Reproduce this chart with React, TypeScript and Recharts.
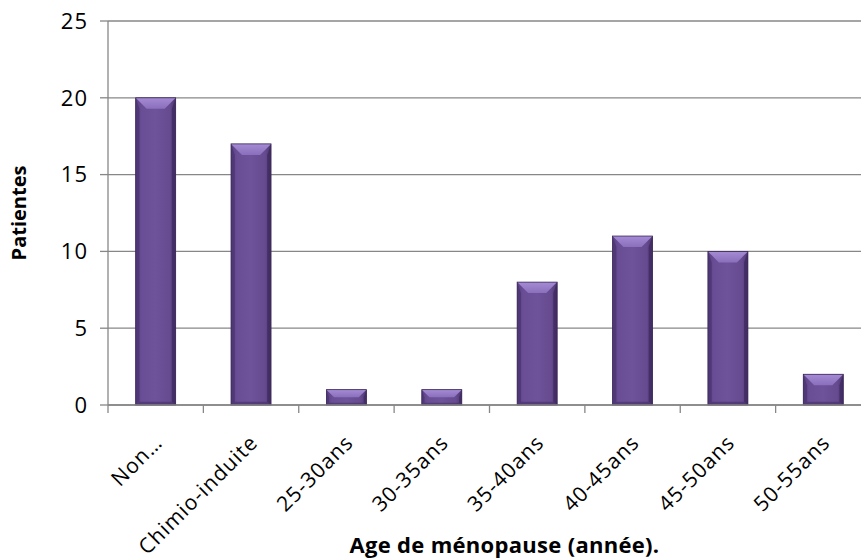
import React from "react";
import { BarChart, Bar, XAxis, YAxis, CartesianGrid } from "recharts";

const categories = [
  "Non…",
  "Chimio-induite",
  "25-30ans",
  "30-35ans",
  "35-40ans",
  "40-45ans",
  "45-50ans",
  "50-55ans",
];
const patientes = [20, 17, 1, 1, 8, 11, 10, 2];
const yTicks = [0, 5, 10, 15, 20, 25];

const data = categories.map((name, i) => ({ name, value: patientes[i] }));

const FONT = "'Open Sans', 'Liberation Sans', sans-serif";
const GRID = "#878787";
const TICK_SIZE = 8;

// Bevelled bar: dark sides, lighter top facet, shaded face
const BevelBar = (props: any) => {
  const { x, y, width, height } = props;
  if (!height || height <= 0) return null;
  const b = Math.min(11, height / 2, width / 2);
  const r = x + width;
  const bt = y + height;
  return (
    <g>
      <rect x={x} y={y} width={width} height={height} fill="url(#faceGrad)" />
      <polygon
        points={`${x},${y} ${x + b * 0.35},${y + b} ${x + b * 0.35},${bt - b * 0.3} ${x},${bt}`}
        fill="#4b3470"
        opacity={0.75}
      />
      <polygon
        points={`${r},${y} ${r - b * 0.35},${y + b} ${r - b * 0.35},${bt - b * 0.3} ${r},${bt}`}
        fill="#3f2a5f"
        opacity={0.8}
      />
      <polygon
        points={`${x},${bt} ${x + b * 0.35},${bt - b * 0.3} ${r - b * 0.35},${bt - b * 0.3} ${r},${bt}`}
        fill="#4a336c"
        opacity={0.7}
      />
      <polygon
        points={`${x},${y} ${r},${y} ${r - b},${y + b} ${x + b},${y + b}`}
        fill="url(#topGrad)"
      />
      <rect x={x} y={y} width={width} height={height} fill="none" stroke="#3a2757" strokeWidth={0.8} />
    </g>
  );
};

// Category label rotated 45°, plus tick marks on the category boundaries
const XTick = (props: any) => {
  const { x, y, payload, index, visibleTicksCount } = props;
  const half = payload.offset || 0;
  const axisY = y - TICK_SIZE;
  const ax = x + 8;
  const ay = axisY + 39;
  const isLast = index === visibleTicksCount - 1;
  return (
    <g>
      <line x1={x - half} x2={x - half} y1={axisY} y2={axisY + TICK_SIZE} stroke={GRID} strokeWidth={1.3} />
      {isLast && (
        <line x1={x + half} x2={x + half} y1={axisY} y2={axisY + TICK_SIZE} stroke={GRID} strokeWidth={1.3} />
      )}
      <text
        x={ax}
        y={ay}
        transform={`rotate(-45, ${ax}, ${ay})`}
        textAnchor="end"
        fontFamily={FONT}
        fontSize={21}
        letterSpacing={1}
        fill="#000"
      >
        {payload.value}
      </text>
    </g>
  );
};

export default function App() {
  return (
    <div
      style={{
        position: "absolute",
        left: 0,
        top: 0,
        width: 861,
        height: 560,
        overflow: "hidden",
        background: "#fff",
      }}
    >
      <BarChart
        width={880}
        height={560}
        data={data}
        margin={{ top: 21, right: 9, bottom: 0, left: 0 }}
        barCategoryGap="29%"
      >
        <defs>
          <linearGradient id="faceGrad" x1="0" y1="0" x2="1" y2="0">
            <stop offset="0%" stopColor="#5a4083" />
            <stop offset="15%" stopColor="#6a4e95" />
            <stop offset="50%" stopColor="#6e529a" />
            <stop offset="85%" stopColor="#664b90" />
            <stop offset="100%" stopColor="#4e3773" />
          </linearGradient>
          <linearGradient id="topGrad" x1="0" y1="0" x2="0" y2="1">
            <stop offset="0%" stopColor="#a58bd4" />
            <stop offset="100%" stopColor="#8a6fbc" />
          </linearGradient>
        </defs>
        <CartesianGrid vertical={false} stroke={GRID} strokeWidth={1.3} />
        <XAxis
          dataKey="name"
          interval={0}
          height={155}
          tick={<XTick />}
          tickLine={{ stroke: "none" }}
          axisLine={{ stroke: GRID, strokeWidth: 1.3 }}
          tickSize={TICK_SIZE}
          tickMargin={0}
          label={{
            value: "Age de ménopause (année).",
            position: "insideBottom",
            offset: 7,
            fontFamily: FONT,
            fontSize: 22,
            fontWeight: 700,
            letterSpacing: 0.3,
            fill: "#000",
            dx: 15,
          }}
        />
        <YAxis
          domain={[0, 25]}
          ticks={yTicks}
          width={108}
          tickSize={TICK_SIZE}
          tickMargin={12}
          tick={{ fontFamily: FONT, fontSize: 22, fill: "#000", letterSpacing: 1 }}
          tickLine={{ stroke: GRID, strokeWidth: 1.3 }}
          axisLine={{ stroke: GRID, strokeWidth: 1.3 }}
          label={{
            value: "Patientes",
            angle: -90,
            position: "insideLeft",
            offset: 19,
            fontFamily: FONT,
            fontSize: 20,
            fontWeight: 700,
            fill: "#000",
            style: { textAnchor: "middle" },
          }}
        />
        <Bar dataKey="value" shape={<BevelBar />} isAnimationActive={false} />
      </BarChart>
    </div>
  );
}
